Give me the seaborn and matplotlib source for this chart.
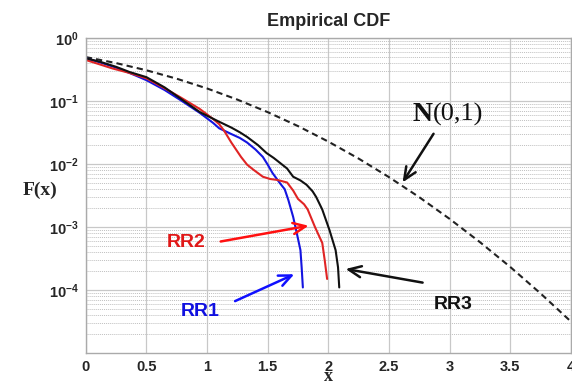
import numpy as np
import pandas as pd
import matplotlib
matplotlib.use("Agg")
import matplotlib.pyplot as plt
import seaborn as sns
from matplotlib.ticker import LogLocator, FixedLocator, NullFormatter

# ---- data ----
rr1_x = [0.0, 0.12, 0.25, 0.36, 0.5, 0.65, 0.78, 0.94, 1.05, 1.1, 1.2, 1.27, 1.33, 1.4, 1.46, 1.5, 1.54, 1.6, 1.64, 1.67, 1.71, 1.74, 1.77, 1.78, 1.79]
rr1_y = [0.48, 0.41, 0.34, 0.28, 0.215, 0.15, 0.104, 0.065, 0.045, 0.037, 0.03, 0.026, 0.022, 0.017, 0.013, 0.0098, 0.0072, 0.005, 0.004, 0.0027, 0.00145, 0.0008, 0.00043, 0.00023, 0.00011]

rr2_x = [0.0, 0.12, 0.22, 0.36, 0.5, 0.65, 0.78, 0.94, 1.05, 1.1, 1.14, 1.2, 1.28, 1.33, 1.38, 1.46, 1.52, 1.58, 1.66, 1.71, 1.75, 1.8, 1.83, 1.89, 1.95, 1.97, 1.99]
rr2_y = [0.45, 0.38, 0.33, 0.28, 0.23, 0.16, 0.115, 0.075, 0.052, 0.043, 0.034, 0.022, 0.013, 0.0098, 0.0082, 0.0063, 0.0058, 0.0056, 0.0051, 0.0038, 0.0028, 0.0023, 0.0019, 0.001, 0.00056, 0.0003, 0.00015]

rr3_x = [0.0, 0.12, 0.25, 0.36, 0.5, 0.65, 0.78, 0.94, 1.02, 1.1, 1.2, 1.27, 1.33, 1.42, 1.49, 1.55, 1.6, 1.66, 1.71, 1.77, 1.82, 1.87, 1.9, 1.95, 2.01, 2.06, 2.08, 2.09]
rr3_y = [0.48, 0.42, 0.35, 0.29, 0.24, 0.165, 0.11, 0.067, 0.056, 0.047, 0.038, 0.032, 0.027, 0.02, 0.015, 0.0125, 0.0105, 0.0085, 0.0063, 0.0055, 0.0047, 0.0037, 0.003, 0.0019, 0.00089, 0.00043, 0.00023, 0.00011]

norm_x = [0.0, 0.25, 0.5, 0.75, 1.0, 1.25, 1.5, 1.75, 2.0, 2.25, 2.5, 2.75, 3.0, 3.25, 3.5, 3.75, 4.0]
norm_y = [0.5, 0.4013, 0.3085, 0.2266, 0.1587, 0.1056, 0.0668, 0.0401, 0.02275, 0.01222, 0.00621,
          0.00298, 0.00135, 0.000577, 0.000233, 8.84e-5, 3.17e-5]

x_ticks = [0, 0.5, 1, 1.5, 2, 2.5, 3, 3.5, 4]
x_tick_labels = ["0", "0.5", "1", "1.5", "2", "2.5", "3", "3.5", "4"]

sns.set_style("white")
plt.rcParams["font.family"] = ["Liberation Sans", "DejaVu Sans"]
plt.rcParams["mathtext.fontset"] = "custom"
plt.rcParams["mathtext.rm"] = "Liberation Sans:bold"
plt.rcParams["mathtext.it"] = "Liberation Sans:bold"
plt.rcParams["mathtext.bf"] = "Liberation Sans:bold"

fig = plt.figure(figsize=(5.72, 3.85), dpi=100)
ax = fig.add_axes([0.150, 0.083, 0.848, 0.818])

sns.lineplot(x=norm_x, y=norm_y, ax=ax, color="#222222", linestyle=(0, (3, 2)), linewidth=1.5, sort=False)
sns.lineplot(x=rr1_x, y=rr1_y, ax=ax, color="#1414e0", linewidth=1.5, sort=False)
sns.lineplot(x=rr2_x, y=rr2_y, ax=ax, color="#e02424", linewidth=1.5, sort=False)
sns.lineplot(x=rr3_x, y=rr3_y, ax=ax, color="#111111", linewidth=1.5, sort=False)

ax.set_yscale("log")
ax.set_xlim(0, 4)
ax.set_ylim(1e-5, 1)
ax.xaxis.set_major_locator(FixedLocator(x_ticks))
ax.set_xticklabels(x_tick_labels)
ax.yaxis.set_major_locator(FixedLocator([1e-4, 1e-3, 1e-2, 1e-1, 1e0]))
ax.yaxis.set_minor_locator(LogLocator(base=10, subs=np.arange(2, 10), numticks=20))
ax.yaxis.set_minor_formatter(NullFormatter())

ax.grid(True, which="major", axis="both", color="#c8c8c8", linewidth=0.9, linestyle="-")
ax.grid(True, which="minor", axis="y", color="#c0c0c0", linewidth=0.7, linestyle=(0, (1, 1)))
ax.set_axisbelow(True)
for s in ax.spines.values():
    s.set_color("#aaaaaa")
    s.set_linewidth(1.0)
ax.tick_params(axis="both", which="both", length=0, labelsize=10.5, pad=5)
for lab in ax.get_xticklabels() + ax.get_yticklabels():
    lab.set_fontweight("bold")

ax.set_title("Empirical CDF", fontsize=13, fontweight="bold", pad=9)
ax.set_xlabel("x", family=["Liberation Serif"], fontweight="bold", fontsize=13, labelpad=-4)
ax.set_ylabel("F(x)", family=["Liberation Serif"], fontweight="bold", fontsize=14, rotation=0, labelpad=22)
ax.yaxis.set_label_coords(-0.095, 0.49)

head = "->,head_length=0.9,head_width=0.4"
# N(0,1) label
ax.text(2.86, 0.062, "N", family=["Liberation Serif"], fontsize=20, fontweight="bold", color="#111111",
        ha="right", va="center")
ax.text(2.865, 0.062, "(0,1)", family=["Liberation Serif"], fontsize=19, color="#111111",
        ha="left", va="center")
ax.annotate("", xy=(2.6, 0.0047), xytext=(2.88, 0.033),
            arrowprops=dict(arrowstyle=head, color="#111111", lw=1.8))
# RR2
ax.text(0.83, 0.00056, "RR2", color="#e01818", fontsize=14, fontweight="bold", ha="center", va="center")
ax.annotate("", xy=(1.86, 0.00107), xytext=(1.09, 0.00058),
            arrowprops=dict(arrowstyle=head, color="#ff1010", lw=1.8))
# RR1
ax.text(0.94, 0.000045, "RR1", color="#1010e0", fontsize=14, fontweight="bold", ha="center", va="center")
ax.annotate("", xy=(1.74, 0.000186), xytext=(1.21, 0.000064),
            arrowprops=dict(arrowstyle=head, color="#1010ff", lw=1.8))
# RR3
ax.text(3.03, 0.000058, "RR3", color="#111111", fontsize=14, fontweight="bold", ha="center", va="center")
ax.annotate("", xy=(2.12, 0.00022), xytext=(2.8, 0.000129),
            arrowprops=dict(arrowstyle=head, color="#111111", lw=1.8))

fig.savefig("out.png", dpi=100)
